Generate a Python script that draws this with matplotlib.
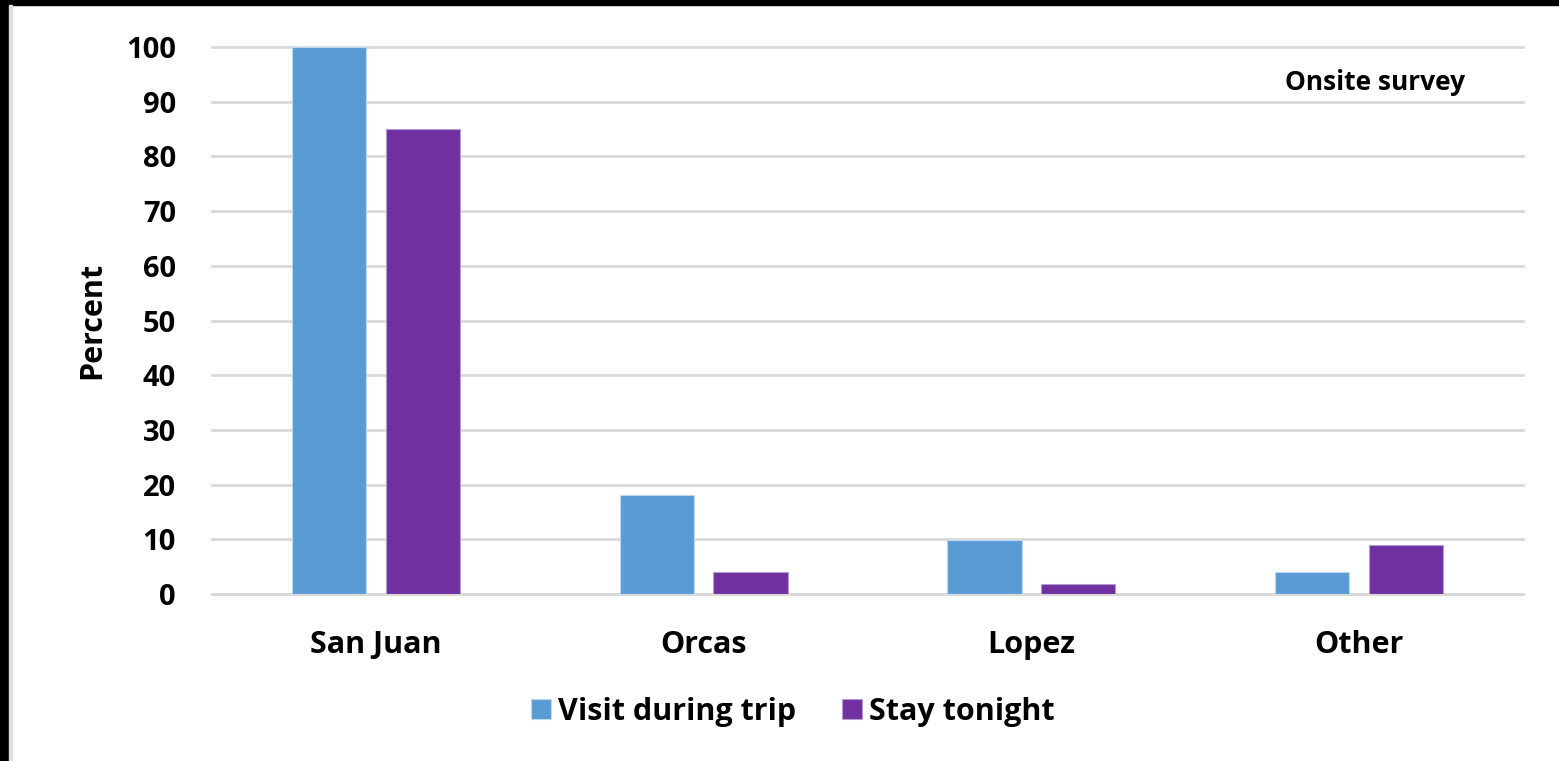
import matplotlib
matplotlib.use("Agg")
import matplotlib.pyplot as plt
from matplotlib.patches import Rectangle
import numpy as np

# island categories and survey shares (percent)
CATEGORIES = ["San Juan", "Orcas", "Lopez", "Other"]
VISIT_DURING_TRIP = [100, 18.1, 9.9, 4.0]
STAY_TONIGHT = [85, 4.0, 1.8, 8.9]
SERIES_NAMES = ["Visit during trip", "Stay tonight"]
Y_TICKS = [0, 10, 20, 30, 40, 50, 60, 70, 80, 90, 100]

BLUE = "#5B9BD5"
PURPLE = "#7030A0"
GRID = "#D9D9D9"

plt.rcParams["font.family"] = ["Open Sans", "DejaVu Sans"]
plt.rcParams["font.weight"] = "bold"

W, H = 1559, 761
fig = plt.figure(figsize=(W / 100, H / 100), dpi=100)
ax = fig.add_axes([212 / W, 1 - 594 / H, (1523 - 212) / W, (594 - 47) / H])

x = np.arange(len(CATEGORIES))
bw = 0.226
off = 0.143
ax.bar(x - off, VISIT_DURING_TRIP, bw, color=BLUE, edgecolor="#BDD7EE", linewidth=0.8,
       label=SERIES_NAMES[0], zorder=3)
ax.bar(x + off, STAY_TONIGHT, bw, color=PURPLE, edgecolor="#B59ACD", linewidth=0.8,
       label=SERIES_NAMES[1], zorder=3)

ax.set_xlim(-0.5, len(CATEGORIES) - 0.5)
ax.set_ylim(0, 100)
ax.set_yticks(Y_TICKS)
ax.set_xticks(x)
ax.set_xticklabels(CATEGORIES)
ax.tick_params(axis="y", length=0, labelsize=21, pad=26)
ax.tick_params(axis="x", length=0, labelsize=22, pad=26)
for lab in ax.get_xticklabels() + ax.get_yticklabels():
    lab.set_fontweight("bold")

ax.grid(axis="y", color=GRID, linewidth=2, zorder=0)
ax.set_axisbelow(True)
for sp in ["top", "right", "left"]:
    ax.spines[sp].set_visible(False)
ax.spines["bottom"].set_color(GRID)
ax.spines["bottom"].set_linewidth(2)
for line in ax.get_ygridlines():
    line.set_clip_on(False)

ax.set_ylabel("Percent", fontsize=22, fontweight="bold")
ax.yaxis.set_label_coords(-(212 - 107) / (1523 - 212), 0.5)

ax.text(1465 / W, 1 - 82 / H, "Onsite survey", transform=fig.transFigure,
        ha="right", va="center", fontsize=19, fontweight="bold")

leg = fig.legend(loc="center", bbox_to_anchor=(793 / W, 1 - 712 / H), ncol=2,
                 frameon=False, fontsize=22, handlelength=0.65, handleheight=0.65,
                 handletextpad=0.23, columnspacing=1.5)
for t in leg.get_texts():
    t.set_fontweight("bold")

# screenshot frame edges
fig.patches.append(Rectangle((0, 1 - 5 / H), 1, 5 / H, transform=fig.transFigure,
                             color="black", zorder=10))
fig.patches.append(Rectangle((0, 0), 9 / W, 1, transform=fig.transFigure,
                             color="black", zorder=10))
fig.patches.append(Rectangle((9 / W, 0), 3 / W, 1 - 5 / H, transform=fig.transFigure,
                             color="#E0E0E0", zorder=10))

fig.savefig("out.png", dpi=100)
